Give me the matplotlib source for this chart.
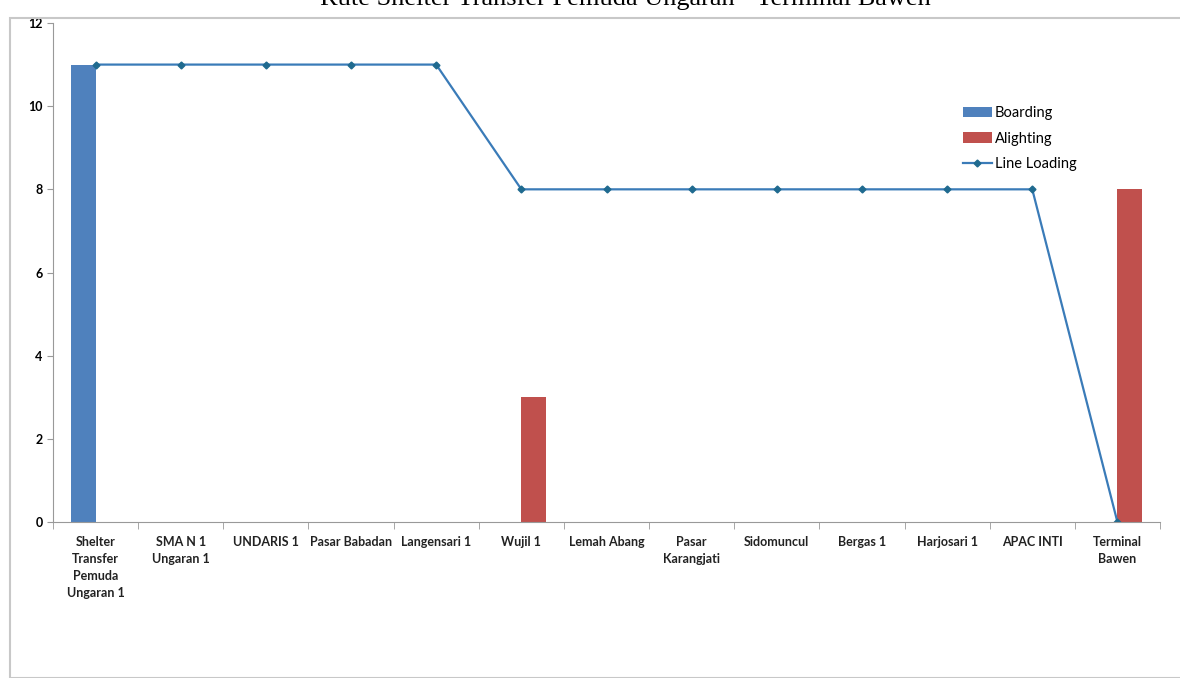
import numpy as np
import matplotlib.pyplot as plt
from matplotlib.patches import Rectangle

stops = ["Shelter\nTransfer\nPemuda\nUngaran 1", "SMA N 1\nUngaran 1", "UNDARIS 1", "Pasar Babadan",
         "Langensari 1", "Wujil 1", "Lemah Abang", "Pasar\nKarangjati", "Sidomuncul",
         "Bergas 1", "Harjosari 1", "APAC INTI", "Terminal\nBawen"]
boarding = [11, 0, 0, 0, 0, 0, 0, 0, 0, 0, 0, 0, 0]
alighting = [0, 0, 0, 0, 0, 3, 0, 0, 0, 0, 0, 0, 8]
line_loading = [11, 11, 11, 11, 11, 8, 8, 8, 8, 8, 8, 8, 0]

plt.rcParams['font.family'] = ['Lato', 'DejaVu Sans']

fig = plt.figure(figsize=(11.8, 6.78), dpi=100)

# chart frame
fig.patches.append(Rectangle((10/1180, 0), 1.0, 1 - 18/678, transform=fig.transFigure,
                             fill=False, edgecolor='#c8c8c8', linewidth=1.5))
# title of the page, only its lower part shows
fig.text(0.53, 1 - 5/678, "Rute Shelter Transfer Pemuda Ungaran - Terminal Bawen",
         ha='center', va='baseline', fontsize=19, family='Liberation Serif')

ax = fig.add_axes([53/1180, 1 - 522/678, (1160 - 53)/1180, (522 - 23)/678])
x = np.arange(len(stops))
w = 0.29
b1 = ax.bar(x - w/2, boarding, width=w, color='#4F81BD', label='Boarding')
b2 = ax.bar(x + w/2, alighting, width=w, color='#C0504D', label='Alighting')
ln, = ax.plot(x, line_loading, color='#3A7BB8', marker='D', markersize=3.5,
              markerfacecolor='#1F6A8F', markeredgecolor='#1F6A8F', linewidth=1.6, label='Line Loading')

ax.set_xlim(-0.5, len(stops) - 0.5)
ax.set_ylim(0, 12)
ax.set_yticks(range(0, 13, 2))
ax.set_xticks(x)
ax.set_xticklabels(stops, fontsize=9, fontweight='bold', color='#222222', linespacing=1.5)
ax.set_xticks(np.arange(-0.5, len(stops)), minor=True)
ax.tick_params(axis='x', which='major', length=0, pad=10)
ax.tick_params(axis='x', which='minor', length=5, color='#999999')
ax.tick_params(axis='y', length=4, color='#999999', labelsize=9)
for lab in ax.get_yticklabels():
    lab.set_fontweight('bold')
for s in ['top', 'right']:
    ax.spines[s].set_visible(False)
for s in ['left', 'bottom']:
    ax.spines[s].set_color('#999999')

ax.legend([b1, b2, ln], ['Boarding', 'Alighting', 'Line Loading'], loc='upper left',
          bbox_to_anchor=(0.81, 0.86), frameon=False, fontsize=10.5,
          handlelength=2.0, handletextpad=0.2, labelspacing=0.8)

plt.savefig('out.png', dpi=100)
